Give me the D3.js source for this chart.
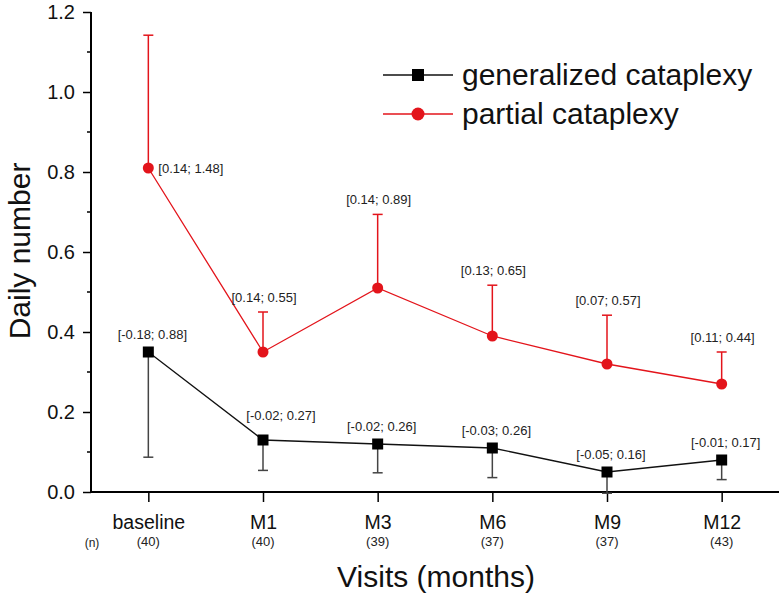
<!DOCTYPE html>
<html><head><meta charset="utf-8">
<script src="https://cdn.jsdelivr.net/npm/d3@7/dist/d3.min.js"></script>
<style>body{margin:0;background:#fff}svg{display:block;font-family:"Liberation Sans",Arial,sans-serif}</style>
</head><body><svg id="c" width="780" height="595"></svg>
<script>
const categories = ["baseline","M1","M3","M6","M9","M12"];
const sampleN = ["(40)","(40)","(39)","(37)","(37)","(43)"];
const generalized = [0.35,0.13,0.12,0.11,0.05,0.08];
const generalizedLower = [0.087,0.054,0.048,0.036,-0.003,0.031];
const generalizedCI = ["[-0.18; 0.88]","[-0.02; 0.27]","[-0.02; 0.26]","[-0.03; 0.26]","[-0.05; 0.16]","[-0.01; 0.17]"];
const partial = [0.81,0.35,0.51,0.39,0.32,0.27];
const partialUpper = [1.142,0.45,0.694,0.517,0.442,0.35];
const partialCI = ["[0.14; 1.48]","[0.14; 0.55]","[0.14; 0.89]","[0.13; 0.65]","[0.07; 0.57]","[0.11; 0.44]"];
const yTicks = [0,0.2,0.4,0.6,0.8,1.0,1.2];
const seriesNames = ["generalized cataplexy","partial cataplexy"];

const RED = "#e3141b";
const svg = d3.select("#c");
const x = d3.scalePoint().domain(categories).range([91,779]).padding(0.5);
const y = d3.scaleLinear().domain([0,1.2]).range([492,12]);

// axes
const yAxis = d3.axisLeft(y).tickValues(yTicks).tickFormat(d3.format(".1f")).tickSize(8).tickPadding(8);
const gy = svg.append("g").attr("transform","translate(91,0)").call(yAxis);
gy.select(".domain").attr("stroke-width",2).attr("d","M0,12V493");
gy.selectAll(".tick line").attr("stroke-width",1.5);
gy.selectAll(".tick text").attr("font-size",20).attr("fill","#111");
// minor ticks
svg.append("g").selectAll("line").data(d3.range(0.1,1.2,0.2)).join("line")
  .attr("x1",87).attr("x2",91).attr("y1",d=>y(d)).attr("y2",d=>y(d)).attr("stroke","#000").attr("stroke-width",1.5);

const xAxis = d3.axisBottom(x).tickSize(10).tickPadding(13);
const gx = svg.append("g").attr("transform","translate(0,492)").call(xAxis);
gx.select(".domain").attr("stroke-width",2).attr("d","M90,0H779");
gx.selectAll(".tick line").attr("stroke-width",1.5);
gx.selectAll(".tick text").attr("font-size",19.5).attr("fill","#111");

// sample sizes
svg.append("g").selectAll("text").data(categories).join("text")
  .attr("x",d=>x(d)).attr("y",546).attr("text-anchor","middle").attr("font-size",13).attr("fill","#222")
  .text((d,i)=>sampleN[i]);
svg.append("text").attr("x",92).attr("y",547).attr("text-anchor","middle").attr("font-size",12).attr("fill","#222").text("(n)");

// axis titles
svg.append("text").attr("x",436).attr("y",587).attr("text-anchor","middle").attr("font-size",30).attr("fill","#111").text("Visits (months)");
svg.append("text").attr("transform","translate(30,251) rotate(-90)").attr("text-anchor","middle").attr("font-size",30).attr("fill","#111").text("Daily number");

const line = d3.line().x((d,i)=>x(categories[i])).y(d=>y(d));
const capW = 5;

// generalized error bars (downward)
const ge = svg.append("g").attr("stroke","#444").attr("stroke-width",1.5);
categories.forEach((c,i)=>{
  ge.append("line").attr("x1",x(c)).attr("x2",x(c)).attr("y1",y(generalized[i])).attr("y2",y(generalizedLower[i]));
  ge.append("line").attr("x1",x(c)-capW).attr("x2",x(c)+capW).attr("y1",y(generalizedLower[i])).attr("y2",y(generalizedLower[i]));
});
// partial error bars (upward)
const pe = svg.append("g").attr("stroke",RED).attr("stroke-width",1.5);
categories.forEach((c,i)=>{
  pe.append("line").attr("x1",x(c)).attr("x2",x(c)).attr("y1",y(partial[i])).attr("y2",y(partialUpper[i]));
  pe.append("line").attr("x1",x(c)-capW).attr("x2",x(c)+capW).attr("y1",y(partialUpper[i])).attr("y2",y(partialUpper[i]));
});

svg.append("path").datum(generalized).attr("d",line).attr("fill","none").attr("stroke","#111").attr("stroke-width",1.3);
svg.append("path").datum(partial).attr("d",line).attr("fill","none").attr("stroke",RED).attr("stroke-width",1.3);

svg.append("g").selectAll("rect").data(generalized).join("rect")
  .attr("x",(d,i)=>x(categories[i])-5.5).attr("y",d=>y(d)-5.5).attr("width",11).attr("height",11).attr("fill","#000");
svg.append("g").selectAll("circle").data(partial).join("circle")
  .attr("cx",(d,i)=>x(categories[i])).attr("cy",d=>y(d)).attr("r",5.5).attr("fill",RED);

// CI labels
svg.append("g").selectAll("text").data(generalizedCI).join("text")
  .attr("x",(d,i)=>x(categories[i])+(i===1?18:4)).attr("y",(d,i)=>y(generalized[i])-(i===1?20:13))
  .attr("text-anchor","middle").attr("font-size",13).attr("fill","#222").text(d=>d);
svg.append("g").selectAll("text").data(partialCI).join("text")
  .attr("x",(d,i)=>i===0 ? x(categories[i])+10 : x(categories[i])+1)
  .attr("y",(d,i)=>i===0 ? y(partial[i])+4.5 : y(partialUpper[i])-10)
  .attr("text-anchor",(d,i)=>i===0?"start":"middle").attr("font-size",13).attr("fill","#222").text(d=>d);

// legend
const leg = svg.append("g");
const legColors = ["#111",RED];
seriesNames.forEach((s,i)=>{
  const ly = 75 + i*39;
  leg.append("line").attr("x1",383).attr("x2",453).attr("y1",ly).attr("y2",ly).attr("stroke",legColors[i]).attr("stroke-width",1.3);
  if(i===0) leg.append("rect").attr("x",412).attr("y",ly-6).attr("width",12).attr("height",12).attr("fill","#000");
  else leg.append("circle").attr("cx",418).attr("cy",ly).attr("r",6.5).attr("fill",RED);
  leg.append("text").attr("x",462).attr("y",ly+10).attr("font-size",30).attr("fill","#111").text(s);
});
</script></body></html>
